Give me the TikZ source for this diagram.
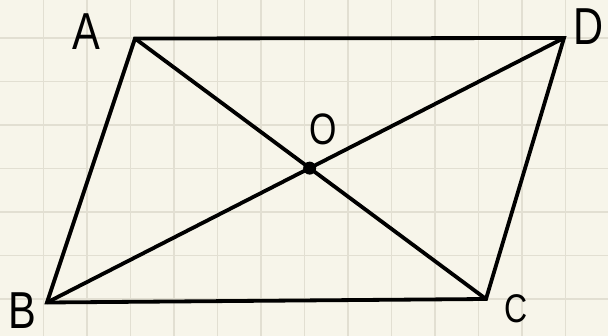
\documentclass[tikz,border=0pt]{standalone}
\usepackage{fontspec}
\setmainfont{Liberation Sans}
\definecolor{paper}{HTML}{F7F5EA}
\definecolor{gridc}{HTML}{E2DFD2}
\tikzset{
  seg/.style={line width=3.8pt, line cap=round, line join=miter},
  lbl/.style={inner sep=0pt, anchor=base, xscale=0.8, font=\fontsize{52}{52}\selectfont},
  gridline/.style={gridc, line width=1.5pt}
}
\begin{document}
\begin{tikzpicture}[x=1pt,y=-1pt]
\fill[paper] (0,0) rectangle (608,336);
\useasboundingbox (0,0) rectangle (608,336);
\foreach \k in {1,...,13} \draw[gridline] (43.5*\k,0) -- (43.5*\k,336);
\foreach \k in {0,...,6} \draw[gridline] (0,38+43.5*\k) -- (608,38+43.5*\k);
\coordinate (A) at (135,38.5);
\coordinate (D) at (564,38);
\coordinate (B) at (47,302.5);
\coordinate (C) at (486,299);
\coordinate (O) at (intersection of A--C and B--D);
\draw[seg] (A) -- (D) -- (C) -- (B) -- cycle;
\draw[seg] (A) -- (C);
\draw[seg] (B) -- (D);
\fill (O) circle (6.5pt);
\node[lbl] (lA) at (86,50) {A};
\node[lbl] (lD) at (589,45) {D};
\node[lbl] (lB) at (22,329) {B};
\node[lbl, font=\fontsize{40}{40}\selectfont] (lC) at (516,323) {C};
\node[lbl, font=\fontsize{44}{44}\selectfont] (lO) at (323,145) {O};
\end{tikzpicture}
\end{document}
